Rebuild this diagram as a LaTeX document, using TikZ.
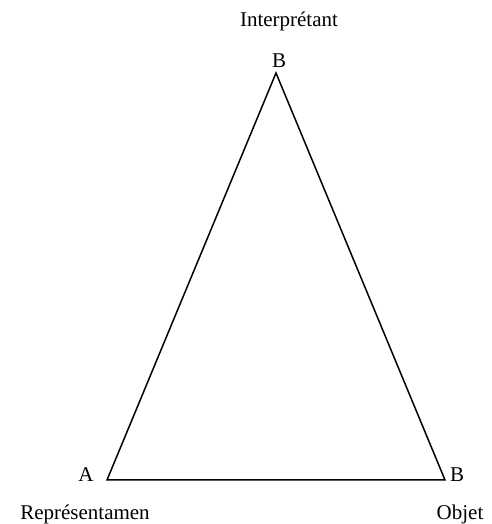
\documentclass[tikz,border=0pt]{standalone}
\usepackage{fontspec}
\setmainfont{Liberation Serif}
\usepackage{tikz}

\begin{document}
\begin{tikzpicture}[x=1pt,y=1pt,font=\fontsize{21}{25}\selectfont,
  lab/.style={inner sep=0pt},
  side/.style={line width=1.5pt}]
\useasboundingbox (0,0) rectangle (491,524);
\coordinate (top) at (276,451);
\coordinate (left) at (107,44);
\coordinate (right) at (445,44);
\draw[side] (top) -- (left) -- (right) -- cycle;
\node[lab] (interp) at (289,503) {Interprétant};
\node[lab] (btop) at (279,463) {B};
\node[lab] (aleft) at (86,49) {A};
\node[lab] (bright) at (457,49) {B};
\node[lab] (repr) at (85,10) {Représentamen};
\node[lab] (objet) at (460,10) {Objet};
\end{tikzpicture}
\end{document}
